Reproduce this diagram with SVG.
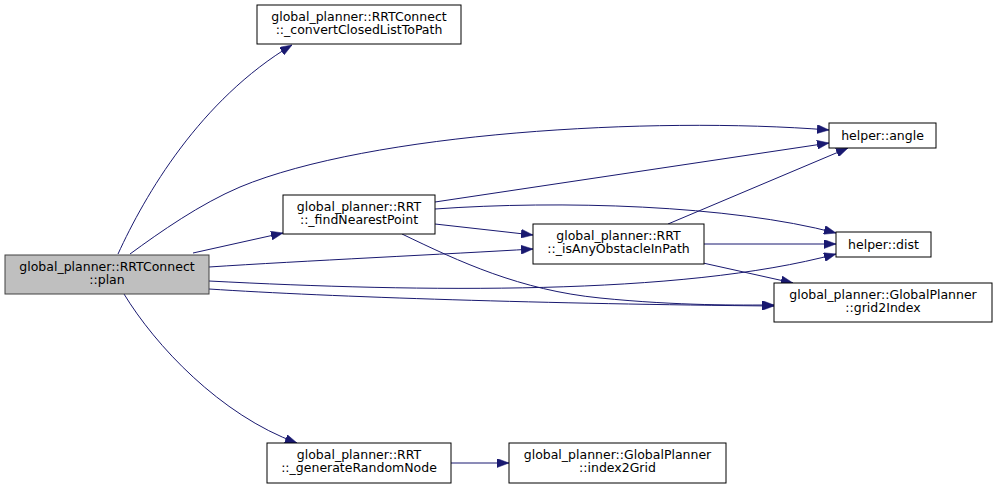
<svg xmlns="http://www.w3.org/2000/svg" width="997" height="489" viewBox="0 0 997 489">
<defs>
<style>
.node rect{fill:#ffffff;stroke:#000000;stroke-width:1}
.node.cur rect{fill:#bfbfbf;stroke:#404040}
.node text{font-family:"DejaVu Sans",sans-serif;font-size:12.5px;text-anchor:middle;fill:#000000}
.edges path{fill:none;stroke:#191970;stroke-width:1;marker-end:url(#arr)}
</style>
<marker id="arr" viewBox="0 0 12 9" refX="12" refY="4.5" markerWidth="12" markerHeight="9" markerUnits="userSpaceOnUse" orient="auto">
<path d="M0,0 L12,4.5 L0,9 z" fill="#191970" stroke="#191970" stroke-width="0.5"/>
</marker>
</defs>
<rect x="0" y="0" width="997" height="489" fill="#ffffff"/>
<g class="edges">
<path d="M118,254 C145,195 200,100 292,45"/>
<path d="M130,254 C160,232 200,204 240,187 C370,133 650,116 829,130"/>
<path d="M193,253 L283,233"/>
<path d="M209,267 C300,261 450,254 533,249"/>
<path d="M209,281 C420,292 680,296 836,254"/>
<path d="M209,289 C330,297 550,304 774,306"/>
<path d="M402,234 C460,262 520,290 600,298 C680,306 740,305 774,305"/>
<path d="M124,294 C155,345 220,415 297,443"/>
<path d="M435,202 L829,143"/>
<path d="M435,209 C560,200 730,205 836,233"/>
<path d="M435,224 L533,235"/>
<path d="M668,224 L848,148"/>
<path d="M704,244 L836,244"/>
<path d="M703,263 L793,283"/>
<path d="M451,463 L509,463"/>
</g>
<g id="node_plan" class="node cur">
<rect x="5" y="255" width="204" height="39"/>
<text x="107" y="270.5">global_planner::RRTConnect</text>
<text x="107" y="284">::plan</text>
</g>
<g id="node_convert" class="node">
<rect x="257" y="5" width="204" height="39"/>
<text x="359" y="20.5">global_planner::RRTConnect</text>
<text x="359" y="34">::_convertClosedListToPath</text>
</g>
<g id="node_findNearest" class="node">
<rect x="283" y="195" width="152" height="39"/>
<text x="359" y="210.5">global_planner::RRT</text>
<text x="359" y="224">::_findNearestPoint</text>
</g>
<g id="node_isAnyObstacle" class="node">
<rect x="533" y="224" width="171" height="40"/>
<text x="618.5" y="239.5">global_planner::RRT</text>
<text x="618.5" y="253">::_isAnyObstacleInPath</text>
</g>
<g id="node_angle" class="node">
<rect x="829" y="123" width="107" height="25"/>
<text x="882.5" y="139.5">helper::angle</text>
</g>
<g id="node_dist" class="node">
<rect x="836" y="232" width="95" height="25"/>
<text x="883.5" y="248.5">helper::dist</text>
</g>
<g id="node_grid2Index" class="node">
<rect x="774" y="283" width="218" height="39"/>
<text x="883" y="298.5">global_planner::GlobalPlanner</text>
<text x="883" y="312">::grid2Index</text>
</g>
<g id="node_generateRandom" class="node">
<rect x="267" y="443" width="184" height="40"/>
<text x="359" y="458.5">global_planner::RRT</text>
<text x="359" y="472">::_generateRandomNode</text>
</g>
<g id="node_index2Grid" class="node">
<rect x="509" y="443" width="217" height="40"/>
<text x="617.5" y="458.5">global_planner::GlobalPlanner</text>
<text x="617.5" y="472">::index2Grid</text>
</g>
</svg>
